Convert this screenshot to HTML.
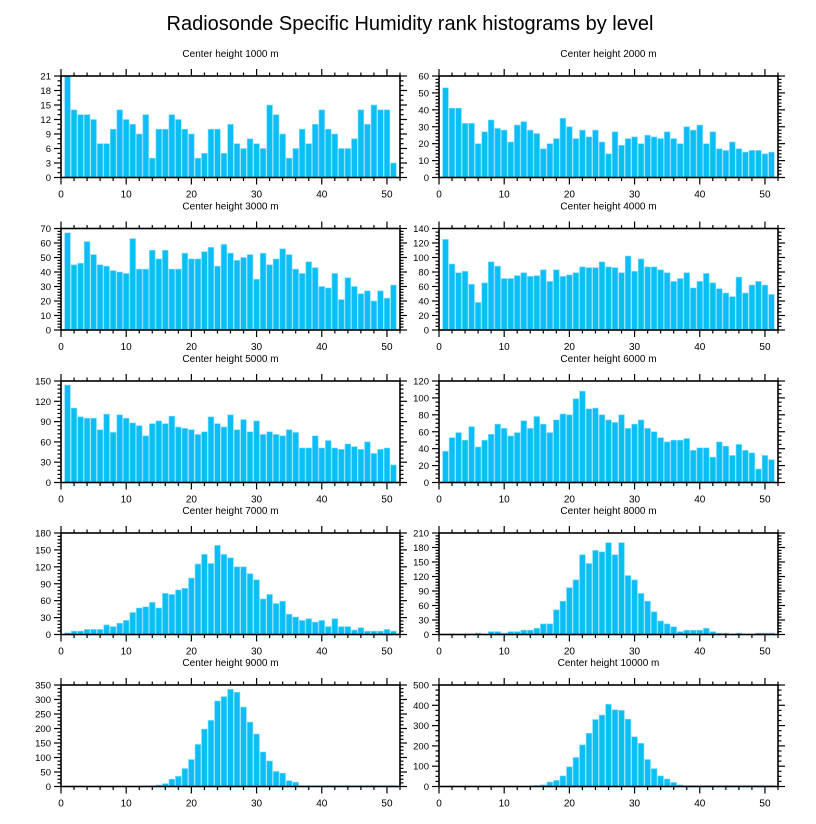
<!DOCTYPE html>
<html><head><meta charset="utf-8"><style>
html,body{margin:0;padding:0;background:#fff;}
svg{display:block;font-family:"Liberation Sans",sans-serif;}
</style></head><body>
<svg id="chart" width="816" height="824" viewBox="0 0 816 824" xmlns="http://www.w3.org/2000/svg">
<text x="410" y="30" font-size="20" text-anchor="middle" fill="#000">Radiosonde Specific Humidity rank histograms by level</text>
</svg>
<script>
const levels = ["1000","2000","3000","4000","5000","6000","7000","8000","9000","10000"];
const yMax = [21,60,70,140,150,120,180,210,350,500];
const yStep = [3,10,10,20,30,20,30,30,50,100];
const h1000 = [21,14,13,13,12,7,7,10,14,12,11,9,13,4,10,10,13,12,10,9,4,5,10,10,5,11,7,6,8,7,6,15,13,9,4,6,10,7,11,14,10,9,6,6,8,14,11,15,14,14,3];
const h2000 = [53,41,41,32,32,20,27,34,29,28,21,31,33,28,26,17,20,23,35,30,23,28,24,28,21,14,27,19,23,24,20,25,24,23,27,23,20,30,28,31,20,27,17,16,21,17,15,16,16,14,15];
const h3000 = [67,45,46,61,52,45,44,41,40,39,63,42,42,55,49,55,42,42,53,49,49,54,57,44,59,53,48,50,52,35,53,45,49,56,52,42,39,47,43,30,29,39,21,36,30,25,27,20,27,22,31];
const h4000 = [125,91,79,81,63,38,65,94,88,71,71,75,79,74,75,83,67,83,74,76,79,87,86,86,94,87,86,79,102,81,98,87,87,83,79,67,71,79,58,67,78,65,57,51,46,73,51,62,67,62,49];
const h5000 = [144,110,97,95,95,78,101,74,100,95,88,84,69,87,91,87,98,82,80,78,71,75,97,87,82,100,78,93,75,91,71,75,71,69,78,74,51,51,69,51,62,51,49,57,53,49,60,43,49,51,26];
const h6000 = [37,53,59,50,66,42,50,57,69,64,55,59,73,64,78,69,59,74,81,80,99,108,87,88,80,74,71,80,64,69,74,64,60,53,48,50,50,52,38,41,41,30,48,43,32,45,38,35,16,32,27];
const h7000 = [3,6,6,9,9,9,17,14,20,25,39,47,49,57,47,73,71,79,82,100,125,142,126,158,142,136,120,120,108,97,63,71,55,59,36,31,25,28,22,25,14,28,14,14,8,12,6,6,6,9,6];
const h8000 = [0,0,0,0,0,3,0,6,6,3,6,6,9,9,13,22,22,51,69,97,113,165,147,174,171,190,165,190,122,113,85,69,47,28,22,16,6,9,9,9,13,6,3,3,0,3,0,0,3,3,3];
const h9000 = [0,0,0,0,0,0,0,0,0,0,0,0,2,3,5,10,25,35,62,93,145,198,228,295,310,335,325,274,222,181,119,88,52,46,20,15,3,3,3,3,3,3,3,3,3,3,3,3,3,3,3];
const h10000 = [0,0,0,0,0,0,0,0,0,0,0,0,0,3,5,8,22,30,52,97,143,205,262,330,352,405,378,375,332,245,213,133,88,52,37,20,8,5,5,5,5,5,5,5,5,5,5,5,5,5,5];
const series = [h1000,h2000,h3000,h4000,h5000,h6000,h7000,h8000,h9000,h10000];
const xTicks = [0,10,20,30,40,50];

const NS="http://www.w3.org/2000/svg";
const svg=document.getElementById('chart');
function mk(tag,attrs,parent){const e=document.createElementNS(NS,tag);for(const k in attrs)e.setAttribute(k,attrs[k]);parent.appendChild(e);return e;}
const colX=[61,439], rowY=[76,228.5,381,533,685], W=339, H=101.5, XMAX=52;

series.forEach((vals,i)=>{
  const x0=colX[i%2], y0=rowY[Math.floor(i/2)];
  const g=mk('g',{},svg);
  
  
  const sx=v=>x0+v/XMAX*W;
  const sy=v=>y0+H-v/yMax[i]*H;
  const t=mk('text',{x:x0+W/2,y:y0-19,'font-size':10,'text-anchor':'middle'},g);
  t.textContent='Center height '+levels[i]+' m';
  
  
  vals.forEach((v,k)=>{
    if(v<=0) return;
    const r=mk('rect',{x:sx(k+1-0.44),y:sy(v),width:sx(0.88)-x0,height:sy(0)-sy(v),fill:'#0bbff6',stroke:'#7fdcfb','stroke-width':0.6},g);
    
    
  });
  mk('rect',{x:x0,y:y0,width:W,height:H,fill:'none',stroke:'#000','stroke-width':1.6},g);
  // x ticks
  for(let v=0;v<=XMAX;v+=2){
    const maj=v%10===0, L=maj?7:3.5, x=sx(v);
    mk('line',{x1:x,x2:x,y1:y0+H,y2:y0+H+L,stroke:'#000','stroke-width':1.2},g);
    mk('line',{x1:x,x2:x,y1:y0,y2:y0-L,stroke:'#000','stroke-width':1.2},g);
  }
  xTicks.forEach(v=>{
    const l=mk('text',{x:sx(v),y:y0+H+20,'font-size':10,'text-anchor':'middle'},g);
    l.textContent=v;
    
    
  });
  // y ticks
  const sub = yStep[i]===3?3:(yStep[i]===30||yStep[i]===10?5:4);
  const minor=yStep[i]/sub;
  for(let v=0;v<=yMax[i]+1e-9;v+=minor){
    const maj=Math.abs(v/yStep[i]-Math.round(v/yStep[i]))<1e-6, L=maj?7:3.5, y=sy(v);
    mk('line',{x1:x0,x2:x0-L,y1:y,y2:y,stroke:'#000','stroke-width':1.2},g);
    mk('line',{x1:x0+W,x2:x0+W+L,y1:y,y2:y,stroke:'#000','stroke-width':1.2},g);
    if(maj){
      const l=mk('text',{x:x0-10,y:y+3.5,'font-size':9.5,'text-anchor':'end'},g);
      l.textContent=Math.round(v);
      
      
    }
  }
});
</script>
</body></html>
